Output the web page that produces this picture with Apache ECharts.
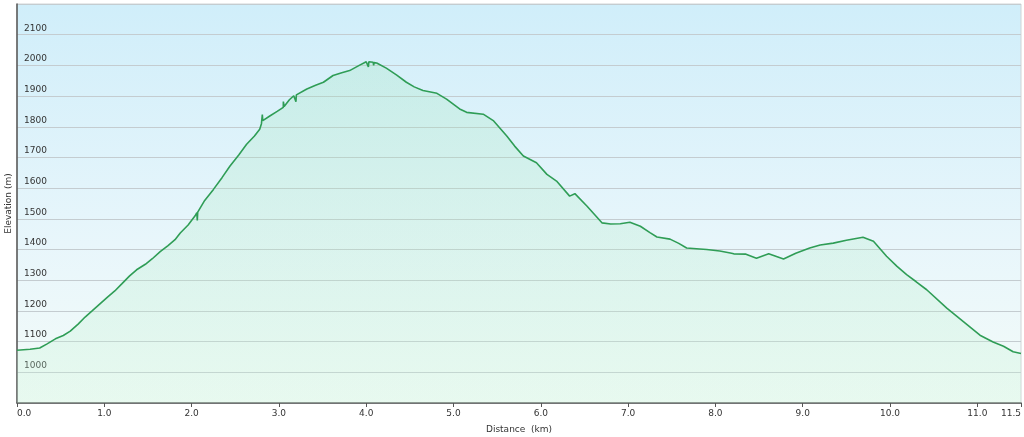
<!DOCTYPE html>
<html>
<head>
<meta charset="utf-8">
<script src="https://cdn.jsdelivr.net/npm/echarts@6/dist/echarts.min.js"></script>
<style>html,body{margin:0;padding:0;background:#fff}#c{width:1024px;height:437px}</style>
</head>
<body>
<div id="c"></div>
<script>
const distanceKm = [0.00,0.15,0.26,0.34,0.44,0.53,0.61,0.70,0.78,0.86,0.95,1.04,1.12,1.20,1.29,1.37,1.47,1.55,1.64,1.73,1.81,1.87,1.96,2.04,2.06,2.065,2.07,2.15,2.25,2.35,2.44,2.54,2.63,2.72,2.78,2.80,2.81,2.815,2.90,2.98,3.05,3.051,3.06,3.12,3.17,3.19,3.195,3.20,3.32,3.42,3.51,3.62,3.72,3.81,3.92,4.00,4.02,4.025,4.03,4.08,4.085,4.09,4.12,4.23,4.35,4.46,4.55,4.65,4.81,4.92,5.07,5.15,5.34,5.46,5.61,5.70,5.80,5.95,6.07,6.18,6.33,6.39,6.53,6.70,6.80,6.91,7.02,7.14,7.25,7.33,7.48,7.58,7.67,7.82,7.90,8.05,8.17,8.21,8.35,8.47,8.61,8.78,8.92,9.08,9.20,9.35,9.50,9.69,9.81,9.96,10.08,10.19,10.30,10.42,10.65,10.84,11.03,11.18,11.30,11.41,11.50];
const elevationM = [1072,1075,1079,1092,1109,1120,1134,1157,1180,1200,1223,1246,1265,1288,1314,1334,1352,1370,1393,1413,1432,1454,1480,1510,1520,1495,1522,1560,1596,1635,1672,1708,1743,1770,1792,1810,1840,1820,1836,1850,1863,1882,1866,1888,1901,1902,1882,1904,1923,1935,1945,1967,1976,1983,2000,2012,2013,1995,2012,2010,2000,2009,2008,1991,1968,1945,1930,1918,1909,1890,1858,1847,1841,1819,1770,1737,1705,1683,1645,1623,1574,1582,1541,1487,1483,1484,1489,1476,1455,1441,1434,1420,1405,1402,1400,1395,1389,1386,1385,1372,1386,1369,1388,1405,1415,1421,1430,1440,1427,1378,1345,1318,1295,1269,1209,1165,1121,1099,1085,1067,1061];
const xAxisName = 'Distance  (km)';
const yAxisName = 'Elevation (m)';

const data = distanceKm.map((d, i) => [d, elevationM[i]]);
const chart = echarts.init(document.getElementById('c'), null, {renderer: 'canvas'});
const font = 'DejaVu Sans, Verdana, sans-serif';
chart.setOption({
  animation: false,
  backgroundColor: '#ffffff',
  grid: {
    left: 17, right: 3, top: 4, bottom: 34,
    outerBoundsMode: 'none',
    containLabel: false,
    show: true,
    borderColor: '#d0d4d6', borderWidth: 1,
    backgroundColor: new echarts.graphic.LinearGradient(0, 0, 0, 1, [
      {offset: 0, color: '#d0eefa'},
      {offset: 0.6, color: '#e8f6fb'},
      {offset: 1, color: '#f3fbf8'}
    ])
  },
  xAxis: {
    type: 'value', min: 0, max: 11.5, interval: 1,
    name: xAxisName, nameLocation: 'middle', nameGap: 22,
    nameTextStyle: {fontFamily: font, fontSize: 9, color: '#333'},
    axisLine: {show: true, onZero: false, lineStyle: {color: '#555', width: 1.5}},
    axisTick: {show: true, length: 4, lineStyle: {color: '#555'}},
    axisLabel: {
      fontFamily: font, fontSize: 9, color: '#333', margin: 6,
      formatter: v => v.toFixed(1),
      alignMinLabel: 'left', alignMaxLabel: 'right'
    },
    splitLine: {show: false}
  },
  yAxis: {
    type: 'value', min: 900, max: 2200, interval: 100,
    name: yAxisName, nameLocation: 'middle', nameGap: 4, nameRotate: 90,
    nameMoveOverlap: false,
    nameTextStyle: {fontFamily: font, fontSize: 9, color: '#333'},
    axisLine: {show: true, lineStyle: {color: '#555', width: 1.5}},
    axisTick: {show: false},
    axisLabel: {
      inside: true, margin: 7, fontFamily: font, fontSize: 9, color: '#333',
      verticalAlign: 'bottom', padding: [0, 0, 2, 0],
      formatter: v => String(v),
      showMinLabel: false, showMaxLabel: false
    },
    splitLine: {show: true, lineStyle: {color: '#c4ccd0', width: 1}}
  },
  series: [{
    type: 'line',
    data: data,
    showSymbol: false,
    smooth: false,
    lineStyle: {color: '#2f9d56', width: 1.6},
    areaStyle: {
      color: new echarts.graphic.LinearGradient(0, 0, 0, 1, [
        {offset: 0, color: 'rgba(150,225,175,0.32)'},
        {offset: 1, color: 'rgba(200,245,215,0.38)'}
      ])
    }
  }]
});
</script>
</body>
</html>
